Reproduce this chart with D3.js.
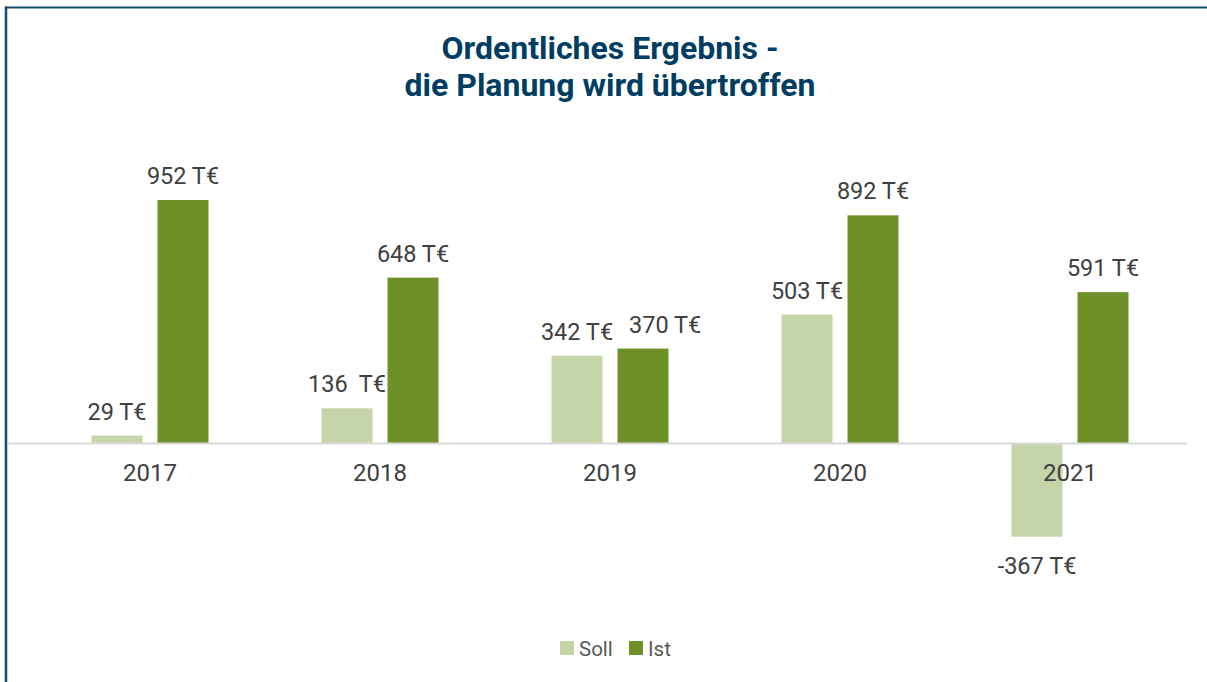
<!DOCTYPE html>
<html>
<head>
<meta charset="utf-8">
<script src="https://cdn.jsdelivr.net/npm/d3@7"></script>
<style>
  body { margin: 0; background: #fff; }
  text { font-family: Roboto, "Open Sans", sans-serif; }
</style>
</head>
<body>
<div id="chart"></div>
<script>
// chart data
var years = ["2017", "2018", "2019", "2020", "2021"];
var series = ["Soll", "Ist"];
var sollValues = [29, 136, 342, 503, -367];
var istValues = [952, 648, 370, 892, 591];
var sollLabels = ["29 T€", "136  T€", "342 T€", "503 T€", "-367 T€"];
var istLabels = ["952 T€", "648 T€", "370 T€", "892 T€", "591 T€"];
var titleLines = ["Ordentliches Ergebnis -", "die Planung wird übertroffen"];

var svgWidth = 1207;
var svgHeight = 682;

var colors = { Soll: "#c5d5a9", Ist: "#6e9028" };

var svg = d3.select("#chart")
  .append("svg")
  .attr("width", svgWidth)
  .attr("height", svgHeight);

// frame lines (top + left)
svg.append("line")
  .attr("x1", 5).attr("x2", svgWidth).attr("y1", 7.5).attr("y2", 7.5)
  .attr("stroke", "#184a70").attr("stroke-width", 2);
svg.append("line")
  .attr("x1", 6).attr("x2", 6).attr("y1", 6.5).attr("y2", svgHeight)
  .attr("stroke", "#184a70").attr("stroke-width", 2.5);

// title
svg.append("text")
  .attr("x", 610)
  .attr("y", 59)
  .attr("text-anchor", "middle")
  .attr("font-size", "32px")
  .attr("font-weight", "bold")
  .attr("fill", "#003d63")
  .selectAll("tspan")
  .data(titleLines)
  .enter()
  .append("tspan")
  .attr("x", 610)
  .attr("dy", (d, i) => i === 0 ? 0 : 37)
  .text(d => d);

// scales
var x0 = d3.scaleBand()
  .domain(years)
  .range([35, 1185])
  .padding(0);

var groupWidth = 117;
var x1 = d3.scaleBand()
  .domain(series)
  .range([(x0.bandwidth() - groupWidth) / 2, (x0.bandwidth() + groupWidth) / 2])
  .paddingInner(15 / 66);

var y = d3.scaleLinear()
  .domain([-367, 952])
  .range([536.7, 200]);

var rows = years.map(function(yr, i) {
  return [
    { year: yr, key: "Soll", value: sollValues[i], label: sollLabels[i] },
    { year: yr, key: "Ist", value: istValues[i], label: istLabels[i] }
  ];
});

var groups = svg.selectAll(".yearGroup")
  .data(rows)
  .enter()
  .append("g")
  .attr("class", "yearGroup")
  .attr("transform", (d, i) => `translate(${x0(years[i])}, 0)`);

groups.selectAll("rect")
  .data(d => d)
  .enter()
  .append("rect")
  .attr("x", d => x1(d.key))
  .attr("width", x1.bandwidth())
  .attr("y", d => y(Math.max(0, d.value)))
  .attr("height", d => Math.abs(y(d.value) - y(0)))
  .attr("fill", d => colors[d.key]);

// baseline
svg.append("line")
  .attr("x1", 8).attr("x2", 1187)
  .attr("y1", y(0) + 0.5).attr("y2", y(0) + 0.5)
  .attr("stroke", "#d9d9d9")
  .attr("stroke-width", 2);

// category axis labels
var xAxis = d3.axisBottom(x0).tickSize(0).tickPadding(0);
var axisG = svg.append("g")
  .attr("transform", `translate(0, ${y(0)})`)
  .call(xAxis);
axisG.select(".domain").remove();
axisG.selectAll("text")
  .attr("y", 38)
  .attr("dy", 0)
  .attr("font-size", "24px")
  .attr("font-family", "Roboto, sans-serif")
  .attr("fill", "#404040");

// value labels
groups.selectAll(".valueLabel")
  .data(d => d)
  .enter()
  .append("text")
  .attr("class", "valueLabel")
  .attr("x", d => x1(d.key) + x1.bandwidth() / 2)
  .attr("y", d => d.value >= 0 ? y(d.value) - 16 : y(d.value) + 37)
  .attr("text-anchor", "middle")
  .attr("font-size", "23.5px")
  .attr("fill", "#404040")
  .style("white-space", "pre")
  .text(d => d.label);

// push Ist label right when it collides with the Soll label (like Excel does)
groups.each(function() {
  var labels = d3.select(this).selectAll(".valueLabel").nodes();
  var a = labels[0].getBBox(), b = labels[1].getBBox();
  var vOverlap = a.y < b.y + b.height && b.y < a.y + a.height;
  var gap = 16;
  if (vOverlap && a.x + a.width + gap > b.x) {
    var shift = a.x + a.width + gap - b.x;
    d3.select(labels[1]).attr("x", +labels[1].getAttribute("x") + shift);
  }
});

// legend
var legend = svg.append("g").attr("transform", "translate(560, 641)");
var legendItems = [{ key: "Soll", x: 0 }, { key: "Ist", x: 69 }];
legend.selectAll("rect")
  .data(legendItems)
  .enter()
  .append("rect")
  .attr("x", d => d.x)
  .attr("y", 0)
  .attr("width", 14)
  .attr("height", 14)
  .attr("fill", d => colors[d.key]);
legend.selectAll("text")
  .data(legendItems)
  .enter()
  .append("text")
  .attr("x", d => d.x + 19)
  .attr("y", 15)
  .attr("font-size", "20.5px")
  .attr("font-family", "'Open Sans', sans-serif")
  .attr("fill", "#595959")
  .text(d => d.key);
</script>
</body>
</html>
